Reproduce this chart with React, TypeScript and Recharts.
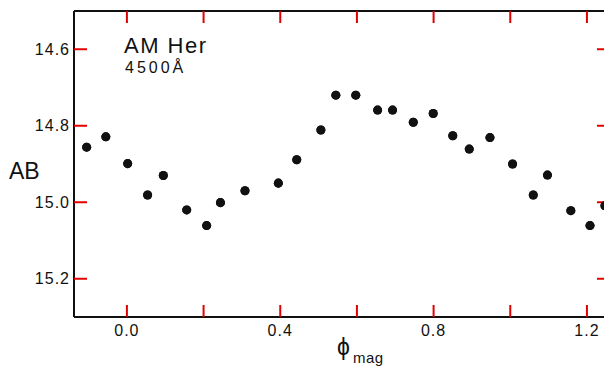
import { ScatterChart, Scatter, XAxis, YAxis, ZAxis } from "recharts";

// phase (phi_mag) and AB magnitude
const phase = [
  -0.105, -0.055, 0.002, 0.054, 0.095, 0.156, 0.208, 0.244, 0.308, 0.395,
  0.443, 0.506, 0.545, 0.597, 0.654, 0.693, 0.747, 0.799, 0.85, 0.893,
  0.947, 1.006, 1.06, 1.097, 1.158, 1.208, 1.247,
];
const mag = [
  14.856, 14.829, 14.899, 14.981, 14.93, 15.02, 15.061, 15.001, 14.97, 14.95,
  14.889, 14.811, 14.72, 14.72, 14.759, 14.759, 14.791, 14.768, 14.826, 14.861,
  14.831, 14.9, 14.981, 14.929, 15.022, 15.061, 15.009,
];

const xTicks = [0, 0.2, 0.4, 0.6, 0.8, 1.0, 1.2];
const xTickLabels = ["0.0", "", "0.4", "", "0.8", "", "1.2"];
const yTicks = [14.6, 14.8, 15.0, 15.2];
const yTickLabels = ["14.6", "14.8", "15.0", "15.2"];

const data = phase.map((p, i) => ({ phase: p, mag: mag[i] }));

const FONT = "'Liberation Sans', Arial, sans-serif";
const INK = "#111";

function labelFor(ticks: number[], labels: string[], v: number) {
  const i = ticks.findIndex((t) => Math.abs(t - v) < 1e-6);
  return i >= 0 ? labels[i] : "";
}

const axisLine = { stroke: INK, strokeWidth: 2 };
const tickLine = { stroke: "#e00000", strokeWidth: 2 };
const tickText = { fontSize: 16, fill: INK, fontFamily: FONT, letterSpacing: 1 };

const textStyle = (left: number, top: number, size: number, spacing = 0): any => ({
  position: "absolute",
  left,
  top,
  fontSize: size,
  lineHeight: `${size}px`,
  fontFamily: FONT,
  color: INK,
  letterSpacing: spacing,
  whiteSpace: "nowrap",
});

export default function App() {
  return (
    <div style={{ position: "absolute", left: 0, top: 0, width: 605, height: 366, background: "#fff" }}>
      <ScatterChart width={605} height={366} margin={{ top: 1, right: 0, bottom: 19, left: 14 }}>
        <ZAxis range={[92, 92]} />
        <XAxis
          xAxisId="b"
          type="number"
          dataKey="phase"
          domain={[-0.138, 1.2445]}
          ticks={xTicks}
          interval={0}
          height={30}
          tickSize={-12}
          tickMargin={20}
          axisLine={axisLine}
          tickLine={tickLine}
          tick={tickText}
          tickFormatter={(v: number) => labelFor(xTicks, xTickLabels, v)}
          allowDataOverflow
        />
        <XAxis
          xAxisId="t"
          orientation="top"
          type="number"
          dataKey="phase"
          domain={[-0.138, 1.2445]}
          ticks={xTicks}
          interval={0}
          height={10}
          tickSize={-12}
          tickMargin={0}
          axisLine={axisLine}
          tickLine={tickLine}
          tick={tickText}
          tickFormatter={() => ""}
          allowDataOverflow
        />
        <YAxis
          yAxisId="l"
          type="number"
          dataKey="mag"
          domain={[14.5, 15.3]}
          reversed
          ticks={yTicks}
          interval={0}
          width={60}
          tickSize={-13}
          tickMargin={17}
          axisLine={axisLine}
          tickLine={tickLine}
          tick={tickText}
          tickFormatter={(v: number) => labelFor(yTicks, yTickLabels, v)}
        />
        <YAxis
          yAxisId="r"
          orientation="right"
          type="number"
          dataKey="mag"
          domain={[14.5, 15.3]}
          reversed
          ticks={yTicks}
          interval={0}
          width={1}
          tickSize={-7}
          tickMargin={0}
          axisLine={false}
          tickLine={tickLine}
          tick={tickText}
          tickFormatter={() => ""}
        />
        <Scatter xAxisId="t" yAxisId="r" data={data} fill={INK} isAnimationActive={false} />
        <Scatter xAxisId="b" yAxisId="l" data={data} fill={INK} isAnimationActive={false} />
      </ScatterChart>
      <div style={textStyle(124, 35, 22, 1.5)}>AM Her</div>
      <div style={textStyle(125, 60, 16, 3)}>4500Å</div>
      <div style={textStyle(9, 160, 23)}>AB</div>
      <div style={textStyle(337, 336, 23)}>ϕ</div>
      <div style={textStyle(353, 350, 15, 0.5)}>mag</div>
    </div>
  );
}
